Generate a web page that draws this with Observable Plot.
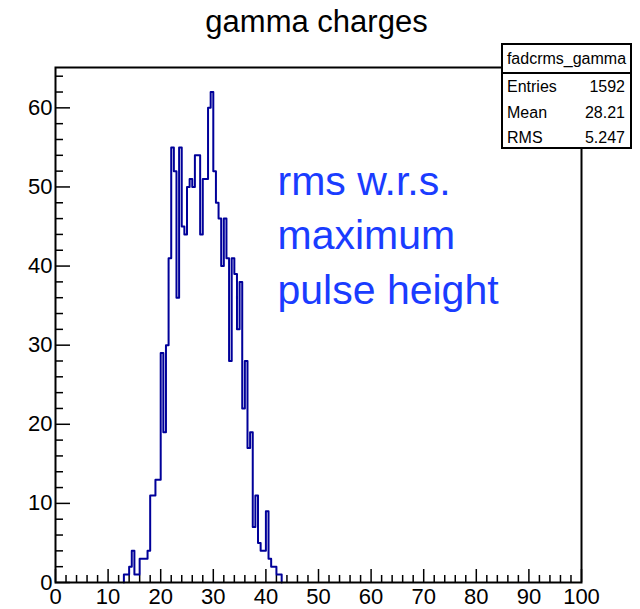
<!DOCTYPE html>
<html>
<head>
<meta charset="utf-8">
<script src="https://cdn.jsdelivr.net/npm/d3@7"></script>
<script src="https://cdn.jsdelivr.net/npm/@observablehq/plot@0.6"></script>
<style>
  html, body { margin: 0; padding: 0; background: white; }
  #wrap { position: relative; width: 640px; height: 609px; font-family: "Liberation Sans", Arial, Helvetica, sans-serif; }
  #stats { position: absolute; left: 501px; top: 43px; width: 127px; height: 102px; border: 2px solid black; background: white; font-size: 16px; color: black; }
  #stats .hd { height: 27px; line-height: 28px; text-align: center; border-bottom: 2px solid black; }
  #stats .row { display: flex; justify-content: space-between; height: 25.7px; line-height: 26px; padding: 0 5px 0 4px; }
</style>
</head>
<body>
<div id="wrap"></div>
<script>
// ---- data ----
const titleText = "gamma charges";
const histName = "fadcrms_gamma";
const statLabels = ["Entries", "Mean", "RMS"];
const statValues = ["1592", "28.21", "5.247"];
const annotationLines = ["rms w.r.s.", "maximum", "pulse height"];

const binWidth = 0.5;
const firstBinLow = 13;
// counts per 0.5-wide bin, starting at 13.0
const counts = [
  1, 1, 2, 4, 1, 1, 3, 3, 3, 4,        // 13.0 - 17.5
  11, 11, 13, 13, 29, 19,              // 18.0 - 20.5
  30, 41, 55, 52, 36, 55,              // 21.0 - 23.5
  45, 44, 50, 51, 50, 54,              // 24.0 - 26.5
  54, 44, 51, 51, 60, 62,              // 27.0 - 29.5
  52, 48, 46, 40, 46, 41,              // 30.0 - 32.5
  28, 41, 39, 32, 38, 22,              // 33.0 - 35.5
  28, 17, 19, 7, 11, 5,                // 36.0 - 38.5
  4, 4, 9, 3, 2, 2, 1, 1               // 39.0 - 42.5
];
const xDomain = [0, 100];
const yDomain = [0, 65.1];
const xMajor = [0, 10, 20, 30, 40, 50, 60, 70, 80, 90, 100];
const xMinor = [2,4,6,8,12,14,16,18,22,24,26,28,32,34,36,38,42,44,46,48,52,54,56,58,62,64,66,68,72,74,76,78,82,84,86,88,92,94,96,98];
const yMajor = [0, 10, 20, 30, 40, 50, 60];
const yMinor = [2,4,6,8,12,14,16,18,22,24,26,28,32,34,36,38,42,44,46,48,52,54,56,58,62,64];

// ---- build the step outline (ROOT-like histogram outline) ----
const pts = [{x: firstBinLow, y: 0}];
counts.forEach((c, i) => pts.push({x: firstBinLow + i * binWidth, y: c}));
pts.push({x: firstBinLow + counts.length * binWidth, y: 0});

const W = 640, H = 609;
const mL = 55, mR = 59, mT = 67, mB = 27;
const innerW = W - mL - mR, innerH = H - mT - mB;

const chart = Plot.plot({
  width: W, height: H,
  marginLeft: mL, marginRight: mR, marginTop: mT, marginBottom: mB,
  x: {domain: xDomain},
  y: {domain: yDomain},
  style: {fontFamily: "Liberation Sans, Arial, Helvetica, sans-serif", background: "white", color: "black", overflow: "visible"},
  marks: [
    Plot.tickX(xMajor, {x: d => d, stroke: "black", strokeWidth: 1.5, insetTop: innerH - 13}),
    Plot.tickX(xMinor, {x: d => d, stroke: "black", strokeWidth: 1.5, insetTop: innerH - 7}),
    Plot.tickY(yMajor, {y: d => d, stroke: "black", strokeWidth: 1.5, insetRight: innerW - 15}),
    Plot.tickY(yMinor, {y: d => d, stroke: "black", strokeWidth: 1.5, insetRight: innerW - 8}),
    Plot.line(pts, {x: "x", y: "y", curve: "step-after", stroke: "#000099", strokeWidth: 2}),
    Plot.frame({stroke: "black", strokeWidth: 2}),
    Plot.axisX({ticks: xMajor, tickSize: 0, tickPadding: 6, fontSize: 22, label: null, tickFormat: d => String(d)}),
    Plot.axisY({ticks: yMajor, tickSize: 0, tickPadding: 3, fontSize: 22, label: null, tickFormat: d => String(d)}),
    Plot.text([titleText], {text: d => d, frameAnchor: "top", dx: -2, dy: -45, fontSize: 31, lineAnchor: "middle", fill: "black"}),
    Plot.text([annotationLines.join("\n")], {text: d => d, frameAnchor: "top-left", dx: 222, dy: 88, textAnchor: "start", lineAnchor: "top", fontSize: 41, lineHeight: 1.34, fill: "#1a3cff"})
  ]
});

const wrap = document.getElementById("wrap");
wrap.appendChild(chart);

const stats = document.createElement("div");
stats.id = "stats";
let html = `<div class="hd">${histName}</div>`;
statLabels.forEach((l, i) => { html += `<div class="row"><span>${l}</span><span>${statValues[i]}</span></div>`; });
stats.innerHTML = html;
wrap.appendChild(stats);
</script>
</body>
</html>
